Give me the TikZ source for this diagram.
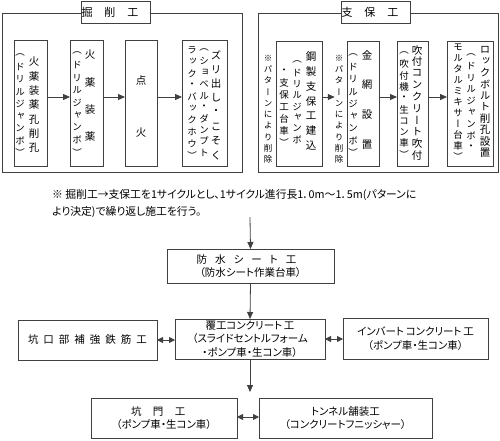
\documentclass[tikz,border=0pt]{standalone}
\usepackage{fontspec}
\setmainfont{Noto Sans CJK JP}
\newfontfamily\vjp[RawFeature=+vert]{Noto Sans CJK JP}
\newfontfamily\pjp[RawFeature=+palt]{Noto Sans CJK JP}
\usetikzlibrary{arrows.meta}
\newdimen\tatesp
\newdimen\lspd
\def\tate#1#2{\tatesp=#1\relax\vbox{\offinterlineskip\tateaux#2\relax}}
\def\tateaux#1{\ifx\relax#1\else\hbox to 1em{\hss\vbox to\tatesp{\vss\hbox{#1}\vss}\hss}\expandafter\tateaux\fi}
\def\lsp#1#2{\lspd=#1\relax\lspaux#2\relax\hskip-\lspd}
\def\lspaux#1{\ifx\relax#1\else#1\hskip\lspd\expandafter\lspaux\fi}
\tikzset{
  lc/.style={draw=black!75, line width=0.8pt},
  framest/.style={lc},
  boxst/.style={lc, fill=white, inner sep=0pt, outer sep=0pt, rectangle},
  titlest/.style={boxst, font=\fontsize{11}{11}\selectfont},
  lowst/.style={boxst, align=center, font=\pjp\fontsize{10.5}{13.5}\selectfont},
  colst/.style={inner sep=0pt, outer sep=0pt, anchor=north},
  mainfnt/.style={font=\vjp\fontsize{10.5}{10.5}\selectfont},
  subfnt/.style={font=\vjp\fontsize{9.5}{9.5}\selectfont},
  notefnt/.style={font=\vjp\fontsize{8.5}{8.5}\selectfont},
  arr/.style={lc, -{Triangle[length=7pt,width=6pt]}},
  darr/.style={lc, {Triangle[length=6pt,width=6pt]}-{Triangle[length=6pt,width=6pt]}},
}
% \rbox[opts]{name}{x1}{y1}{x2}{y2}{text}
\newcommand\rbox[7][]{\node[boxst,#1,minimum width={#5-#3},minimum height={#6-#4}] (#2) at ({(#3+#5)/2},{(#4+#6)/2}) {#7};}
% \tcol[style]{name}{x}{first centre y}{spacing}{chars}
\newcommand\tcol[6][mainfnt]{\node[colst,#1] (#2) at (#3,{#4-#5/2}) {\tate{#5pt}{#6}};}
\begin{document}
\begin{tikzpicture}[x=1pt,y=-1pt]
\useasboundingbox[fill=white] (0,0) rectangle (500,440);
% frames
\draw[framest] (2,13) rectangle (242,172);
\draw[framest] (258,13) rectangle (498,172);
\rbox[titlest]{t1}{83}{1}{149}{23}{\lsp{12pt}{掘削工}}
\rbox[titlest]{t2}{343}{1}{409}{23}{\lsp{12pt}{支保工}}
% left frame boxes
\rbox{k1}{14}{40}{47}{166}{}
\rbox{k2}{70}{40}{103}{166}{}
\rbox{k3}{125}{40}{157}{166}{}
\rbox{k4}{182}{40}{227}{166}{}
\tcol{a1r}{34}{62}{14.3}{火薬装薬孔削孔}
\tcol[subfnt]{a1l}{20}{55}{12.25}{（ドリルジャンボ）}
\tcol{a2r}{90}{55}{27.3}{火薬装薬}
\tcol[subfnt]{a2l}{77}{53}{12.4}{（ドリルジャンボ）}
\tcol{a3}{141}{80}{53}{点火}
\tcol{a4r}{216}{55}{14.3}{ズリ出し・こそく}
\tcol[subfnt]{a4m}{204}{50}{11.4}{（ショベル・ダンプト}
\tcol[subfnt]{a4l}{192}{50}{11.7}{ラック・バックホウ）}
\draw[arr] ([yshift=6pt]k1.east) -- ([yshift=6pt]k2.west);
\draw[arr] ([yshift=6pt]k2.east) -- ([yshift=6pt]k3.west);
\draw[arr] ([yshift=6pt]k3.east) -- ([yshift=6pt]k4.west);
% right frame boxes
\rbox{r1}{276}{41}{322}{166}{}
\rbox{r2}{347}{41}{379}{166}{}
\rbox{r3}{397}{41}{428}{166}{}
\rbox{r4}{447}{41}{493}{166}{}
\tcol{b1r}{311}{57}{14.7}{鋼製支保工建込}
\tcol[subfnt]{b1m}{297}{62}{11.1}{（ドリルジャンボ}
\tcol[subfnt]{b1l}{284}{71}{12}{・支保工台車）}
\tcol[notefnt]{nt1}{268}{58}{11.3}{※パターンにより削除}
\tcol{b2r}{367}{55}{30}{金網設置}
\tcol[subfnt]{b2l}{353}{55}{12.25}{（ドリルジャンボ）}
\tcol[notefnt]{nt2}{339}{58}{11.3}{※パターンにより削除}
\tcol{b3r}{417}{50}{11.7}{吹付コンクリート吹付}
\tcol[subfnt]{b3l}{404}{53}{11.3}{（吹付機・生コン車）}
\tcol{b4r}{485}{50}{11.4}{ロックボルト削孔設置}
\tcol[subfnt]{b4m}{471}{55}{11.5}{（ドリルジャンボ・}
\tcol[subfnt]{b4l}{458}{47}{11}{モルタルミキサー台車）}
\draw[arr] ([yshift=6.5pt]r1.east) -- ([yshift=6.5pt]r1.east -| nt2.west);
\draw[arr] ([yshift=6.5pt]r2.east) -- ([yshift=6.5pt]r3.west);
\draw[arr] ([yshift=6.5pt]r3.east) -- ([yshift=6.5pt]r4.west);
% note
\node[anchor=west, inner sep=0pt, align=left, font=\pjp\fontsize{10.8}{17}\selectfont] (note) at (52,203.5)
  {※ 掘削工→支保工を1サイクルとし、1サイクル進行長1．0m～1．5m(パターンに\\より決定)で繰り返し施工を行う。};
% lower flow
\coordinate (c0) at (250,217);
\rbox[lowst]{ws}{167}{249}{334}{283}{\lsp{8pt}{防水シート工}\\（防水シート作業台車）}
\rbox[lowst]{fk}{175}{319}{325}{359}{覆工コンクリート\,工\\（スライドセントルフォーム\\・ポンプ車・生コン車）}
\rbox[lowst]{hk}{18}{320}{157}{360}{\lsp{5pt}{坑口部補強鉄筋工}}
\rbox[lowst]{iv}{343}{318}{488}{359}{インバート\,コンクリート\,工\\（ポンプ車・生コン車）}
\coordinate (c1) at (250,392);
\rbox[lowst]{km}{91}{398}{237}{438}{\lsp{11.5pt}{坑門工}\\（ポンプ車・生コン車）}
\rbox[lowst]{tn}{259}{398}{432}{438}{トンネル舗装工\\（コンクリートフニッシャー）}
\draw[arr] (c0) -- (ws.north);
\draw[arr] (ws.south) -- (fk.north);
\draw[arr] (fk.south) -- (c1);
\draw[darr] (hk.east) -- (hk.east -| fk.west);
\draw[darr] (fk.east) -- (fk.east -| iv.west);
\draw[darr] ([yshift=1pt]km.east) -- ([yshift=1pt]km.east -| tn.west);
\end{tikzpicture}
\end{document}
